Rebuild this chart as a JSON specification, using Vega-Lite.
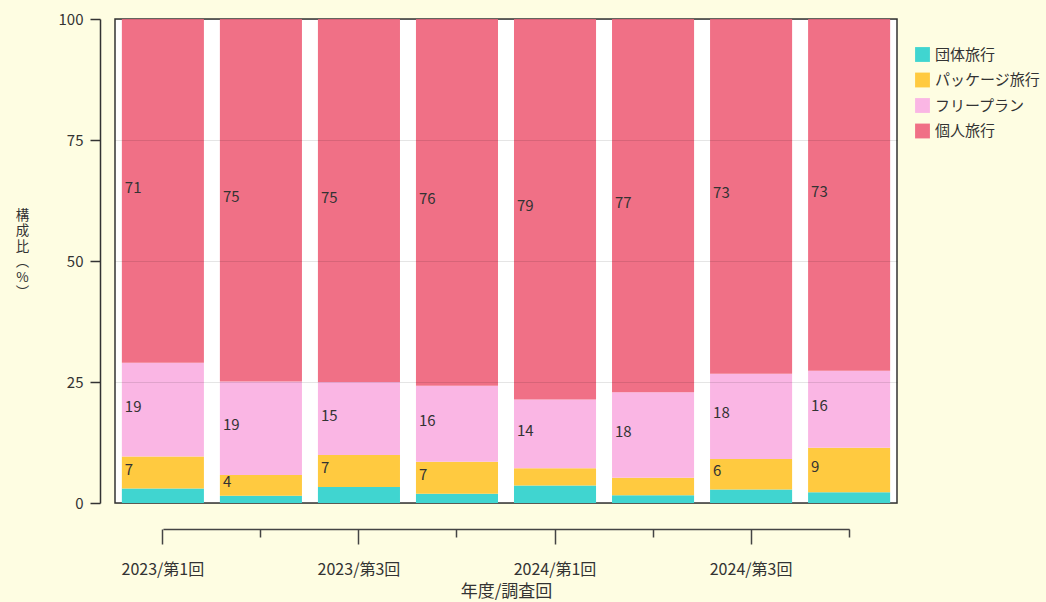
{
  "$schema": "https://vega.github.io/schema/vega-lite/v6.json",
  "width": 782,
  "height": 484,
  "autosize": {"type": "none"},
  "padding": {"left": 115, "top": 19, "right": 149, "bottom": 99},
  "background": "#FEFDE2",
  "config": {
    "font": "Noto Sans CJK JP",
    "view": {"fill": "white", "stroke": "#333333", "strokeWidth": 1.5}
  },
  "data": {
    "values": [
      {"period": "2023/第1回", "type": "団体旅行", "order": 1, "value": 3.0},
      {"period": "2023/第1回", "type": "パッケージ旅行", "order": 2, "value": 6.6},
      {"period": "2023/第1回", "type": "フリープラン", "order": 3, "value": 19.4},
      {"period": "2023/第1回", "type": "個人旅行", "order": 4, "value": 71.0},
      {"period": "2023/第2回", "type": "団体旅行", "order": 1, "value": 1.5},
      {"period": "2023/第2回", "type": "パッケージ旅行", "order": 2, "value": 4.3},
      {"period": "2023/第2回", "type": "フリープラン", "order": 3, "value": 19.3},
      {"period": "2023/第2回", "type": "個人旅行", "order": 4, "value": 74.9},
      {"period": "2023/第3回", "type": "団体旅行", "order": 1, "value": 3.3},
      {"period": "2023/第3回", "type": "パッケージ旅行", "order": 2, "value": 6.6},
      {"period": "2023/第3回", "type": "フリープラン", "order": 3, "value": 15.1},
      {"period": "2023/第3回", "type": "個人旅行", "order": 4, "value": 75.0},
      {"period": "2023/第4回", "type": "団体旅行", "order": 1, "value": 1.9},
      {"period": "2023/第4回", "type": "パッケージ旅行", "order": 2, "value": 6.6},
      {"period": "2023/第4回", "type": "フリープラン", "order": 3, "value": 15.7},
      {"period": "2023/第4回", "type": "個人旅行", "order": 4, "value": 75.8},
      {"period": "2024/第1回", "type": "団体旅行", "order": 1, "value": 3.6},
      {"period": "2024/第1回", "type": "パッケージ旅行", "order": 2, "value": 3.6},
      {"period": "2024/第1回", "type": "フリープラン", "order": 3, "value": 14.2},
      {"period": "2024/第1回", "type": "個人旅行", "order": 4, "value": 78.6},
      {"period": "2024/第2回", "type": "団体旅行", "order": 1, "value": 1.6},
      {"period": "2024/第2回", "type": "パッケージ旅行", "order": 2, "value": 3.6},
      {"period": "2024/第2回", "type": "フリープラン", "order": 3, "value": 17.7},
      {"period": "2024/第2回", "type": "個人旅行", "order": 4, "value": 77.1},
      {"period": "2024/第3回", "type": "団体旅行", "order": 1, "value": 2.8},
      {"period": "2024/第3回", "type": "パッケージ旅行", "order": 2, "value": 6.3},
      {"period": "2024/第3回", "type": "フリープラン", "order": 3, "value": 17.6},
      {"period": "2024/第3回", "type": "個人旅行", "order": 4, "value": 73.3},
      {"period": "2024/第4回", "type": "団体旅行", "order": 1, "value": 2.2},
      {"period": "2024/第4回", "type": "パッケージ旅行", "order": 2, "value": 9.2},
      {"period": "2024/第4回", "type": "フリープラン", "order": 3, "value": 15.9},
      {"period": "2024/第4回", "type": "個人旅行", "order": 4, "value": 72.7}
    ]
  },
  "layer": [
    {
      "mark": {"type": "bar"},
      "encoding": {
        "x": {
          "field": "period",
          "type": "nominal",
          "sort": null,
          "scale": {"paddingInner": 0.163, "paddingOuter": 0.07},
          "axis": {
            "title": "年度/調査回",
            "titleFontSize": 17,
            "titleFontWeight": "normal",
            "titleColor": "#333333",
            "titlePadding": 6,
            "labelAngle": 0,
            "labelFontSize": 16,
            "labelColor": "#333333",
            "labelPadding": 17,
            "labelExpr": "indexof(['2023/第1回','2023/第3回','2024/第1回','2024/第3回'], datum.value) >= 0 ? datum.label : ''",
            "offset": 26,
            "domainColor": "#444444",
            "domainWidth": 1.5,
            "domainDash": [0, 47.9, 686.2, 200],
            "tickColor": "#444444",
            "tickWidth": 1.5,
            "tickSize": {"condition": {"test": "indexof(['2023/第1回','2023/第3回','2024/第1回','2024/第3回'], datum.value) >= 0", "value": 15}, "value": 8}
          }
        },
        "y": {
          "field": "value",
          "type": "quantitative",
          "stack": "zero",
          "scale": {"domain": [0, 100], "nice": false},
          "axis": {
            "values": [0, 25, 50, 75, 100],
            "offset": 15,
            "tickSize": 10,
            "tickColor": "#333333",
            "tickWidth": 1.5,
            "domainColor": "#333333",
            "domainWidth": 1.5,
            "labelFontSize": 15,
            "labelColor": "#333333",
            "labelPadding": 7,
            "grid": true,
            "gridColor": "#000000",
            "gridOpacity": 0.1,
            "zindex": 1,
            "title": ["構", "成", "比", "︵", "%", "︶"],
            "titleAngle": 0,
            "titleFontSize": 13.5,
            "titleFontWeight": "normal",
            "titleColor": "#333333",
            "titleLineHeight": 15.5,
            "titleAlign": "center",
            "titleBaseline": "top",
            "titleX": -78,
            "titleY": 189
          }
        },
        "color": {
          "field": "type",
          "type": "nominal",
          "sort": ["団体旅行", "パッケージ旅行", "フリープラン", "個人旅行"],
          "scale": {
            "domain": ["団体旅行", "パッケージ旅行", "フリープラン", "個人旅行"],
            "range": ["#40D5D0", "#FFCA40", "#FAB6E4", "#F07086"]
          },
          "legend": {
            "title": null,
            "orient": "none",
            "legendX": 800,
            "legendY": 28,
            "symbolType": "square",
            "symbolSize": 220,
            "symbolOpacity": 1,
            "symbolStrokeWidth": 0,
            "labelFontSize": 15,
            "labelColor": "#333333",
            "labelOffset": 5,
            "rowPadding": 9.5
          }
        },
        "order": {"field": "order", "type": "quantitative"}
      }
    },
    {
      "transform": [
        {"stack": "value", "groupby": ["period"], "sort": [{"field": "order"}], "as": ["v0", "v1"]},
        {"calculate": "(datum.v0 + datum.v1) / 2", "as": "mid"},
        {"filter": "datum.value >= 4"}
      ],
      "mark": {"type": "text", "align": "left", "baseline": "middle", "dx": 3, "dy": -3, "fontSize": 15, "color": "#333333"},
      "encoding": {
        "x": {"field": "period", "type": "nominal", "sort": null, "bandPosition": 0},
        "y": {"field": "mid", "type": "quantitative"},
        "text": {"field": "value", "type": "quantitative", "format": ".0f"}
      }
    }
  ]
}
